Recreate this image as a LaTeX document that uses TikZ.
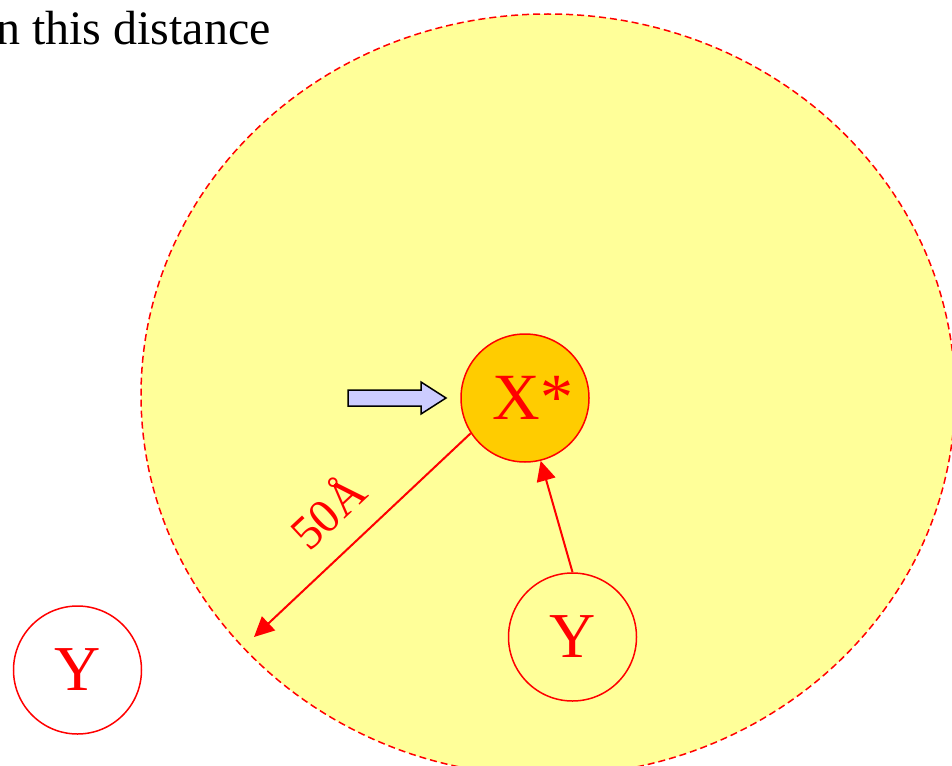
\documentclass[tikz,border=0pt]{standalone}
\usepackage{fontspec}
\setmainfont{Liberation Serif}
\usetikzlibrary{arrows.meta}
\definecolor{paleyellow}{HTML}{FFFF99}
\definecolor{xorange}{HTML}{FFCC00}
\definecolor{pointerblue}{HTML}{CCCCFF}
\tikzset{
  particle/.style={circle, draw=red, line width=1.5pt, minimum size=128pt, inner sep=0pt, text=red, font=\fontsize{64}{64}\selectfont},
  redarrow/.style={draw=red, line width=2pt, -{Triangle[length=20pt,width=19pt]}},
}
\begin{document}
\begin{tikzpicture}[x=1pt,y=-1pt]
\useasboundingbox (0,0) rectangle (952,765);
% range ellipse
\fill[paleyellow] (548,395) ellipse [x radius=407pt, y radius=381pt];
\draw[red, line width=1.5pt, dash pattern=on 7pt off 4pt] (548,395) ellipse [x radius=407pt, y radius=381pt];
% title fragment
\node[anchor=base east, inner sep=0pt, font=\fontsize{48}{48}\selectfont] (title) at (271,45) {n this distance};
% particles
\node[particle, fill=xorange, font=\fontsize{66}{66}\selectfont] (X) at (525,398) {\hspace*{16pt}X*};
\node[particle, fill=white] (Yout) at (77.5,670) {Y};
\node[particle] (Yin) at (572.5,637) {Y};
% pointer arrow
\draw[fill=pointerblue, line width=1.5pt, line join=miter]
  (348,390) -- (421,390) -- (421,382) -- (446,398) -- (421,414) -- (421,406) -- (348,406) -- cycle;
% distance arrow
\coordinate (tip) at (254,637);
\draw[redarrow] (X.213) -- (tip);
\node[text=red, rotate=43, font=\fontsize{48}{48}\selectfont, inner sep=0pt] (dist) at (326,510) {50Å};
% approach arrow
\draw[redarrow] (Yin.north) -- (X.-76);
\end{tikzpicture}
\end{document}
